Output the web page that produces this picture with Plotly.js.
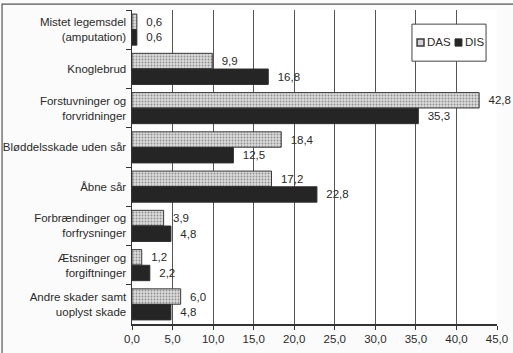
<!DOCTYPE html>
<html>
<head>
<meta charset="utf-8">
<script src="https://cdn.plot.ly/plotly-3.0.1.min.js"></script>
<style>
html,body{margin:0;padding:0;background:#fbfbfb;}
#chart{width:513px;height:353px;}
</style>
</head>
<body>
<div id="chart"></div>
<script>
const categories = [
  "Mistet legemsdel<br>(amputation)",
  "Knoglebrud",
  "Forstuvninger og<br>forvridninger",
  "Bløddelsskade uden sår",
  "Åbne sår",
  "Forbrændinger og<br>forfrysninger",
  "Ætsninger og<br>forgiftninger",
  "Andre skader samt<br>uoplyst skade"
];
const seriesNames = ["DAS", "DIS"];
const dasValues = [0.6, 9.9, 42.8, 18.4, 17.2, 3.9, 1.2, 6.0];
const disValues = [0.6, 16.8, 35.3, 12.5, 22.8, 4.8, 2.2, 4.8];
const xTickValues = [0, 5, 10, 15, 20, 25, 30, 35, 40, 45];

const fam = "Liberation Sans, Arial, sans-serif";
const textFont = {family: fam, size: 11.5, color: "#2a2a2a"};
const dasColor = "#d2d2d2";
const disColor = "#252525";

const traces = [
  {
    type: "bar", orientation: "h", name: seriesNames[0],
    y: categories, x: dasValues,
    marker: {
      color: dasColor,
      line: {color: "#3a3a3a", width: 1},
      pattern: {shape: ".", fgcolor: "#8f8f8f", bgcolor: "#dcdcdc", size: 3, solidity: 0.3}
    },
    texttemplate: "\u00a0\u00a0%{x:.1f}", textposition: "outside",
    textfont: textFont, cliponaxis: false
  },
  {
    type: "bar", orientation: "h", name: seriesNames[1],
    y: categories, x: disValues,
    marker: {color: disColor, line: {color: "#2e2e2e", width: 1}},
    texttemplate: "\u00a0\u00a0%{x:.1f}", textposition: "outside",
    textfont: textFont, cliponaxis: false
  }
];

const legY = 0.8965;
const layout = {
  width: 513, height: 353,
  margin: {l: 132, r: 16, t: 10, b: 29, pad: 0, autoexpand: false},
  paper_bgcolor: "#fbfbfb",
  plot_bgcolor: "#ffffff",
  separators: ",.",
  font: textFont,
  barmode: "group",
  bargap: 0.2,
  bargroupgap: 0.02,
  showlegend: false,
  xaxis: {
    range: [0, 45],
    tickvals: xTickValues,
    tickformat: ".1f",
    showgrid: true, gridcolor: "#555", gridwidth: 1,
    zeroline: false,
    showline: true, linecolor: "#333", linewidth: 1.5,
    ticks: "outside", ticklen: 4, tickcolor: "#333",
    tickfont: {family: fam, size: 11.5, color: "#2a2a2a"},
    fixedrange: true
  },
  yaxis: {
    type: "category",
    autorange: "reversed",
    showgrid: false,
    showline: true, linecolor: "#333", linewidth: 1.5,
    ticks: "outside", tickson: "boundaries", ticklen: 5, tickcolor: "#333",
    tickfont: {family: fam, size: 11.5, color: "#2a2a2a"},
    ticklabelstandoff: 2,
    fixedrange: true
  },
  shapes: [
    // legend box
    {type: "rect", xref: "paper", yref: "paper", x0: 0.767, x1: 0.970, y0: 0.837, y1: 0.955,
     line: {color: "#444", width: 1}, fillcolor: "#ffffff", layer: "above"},
    // legend swatches
    {type: "rect", xref: "paper", yref: "paper", x0: 0.781, x1: 0.800, y0: 0.885, y1: 0.908,
     line: {color: "#3a3a3a", width: 1.5}, fillcolor: dasColor, layer: "above"},
    {type: "rect", xref: "paper", yref: "paper", x0: 0.885, x1: 0.904, y0: 0.885, y1: 0.908,
     line: {color: "#2e2e2e", width: 1}, fillcolor: disColor, layer: "above"},
    // outer frame of the figure
    {type: "rect", xref: "paper", yref: "paper", x0: -0.356, x1: 1.2, y0: -0.2, y1: 1.019,
     line: {color: "#555", width: 1.2}, fillcolor: "rgba(0,0,0,0)", layer: "above"}
  ],
  annotations: [
    {xref: "paper", yref: "paper", x: 0.802, y: legY, xanchor: "left", yanchor: "middle",
     text: seriesNames[0], showarrow: false, font: {family: fam, size: 11.5, color: "#2a2a2a"}},
    {xref: "paper", yref: "paper", x: 0.906, y: legY, xanchor: "left", yanchor: "middle",
     text: seriesNames[1], showarrow: false, font: {family: fam, size: 11.5, color: "#2a2a2a"}}
  ]
};

Plotly.newPlot("chart", traces, layout, {displayModeBar: false, staticPlot: true});
</script>
</body>
</html>
